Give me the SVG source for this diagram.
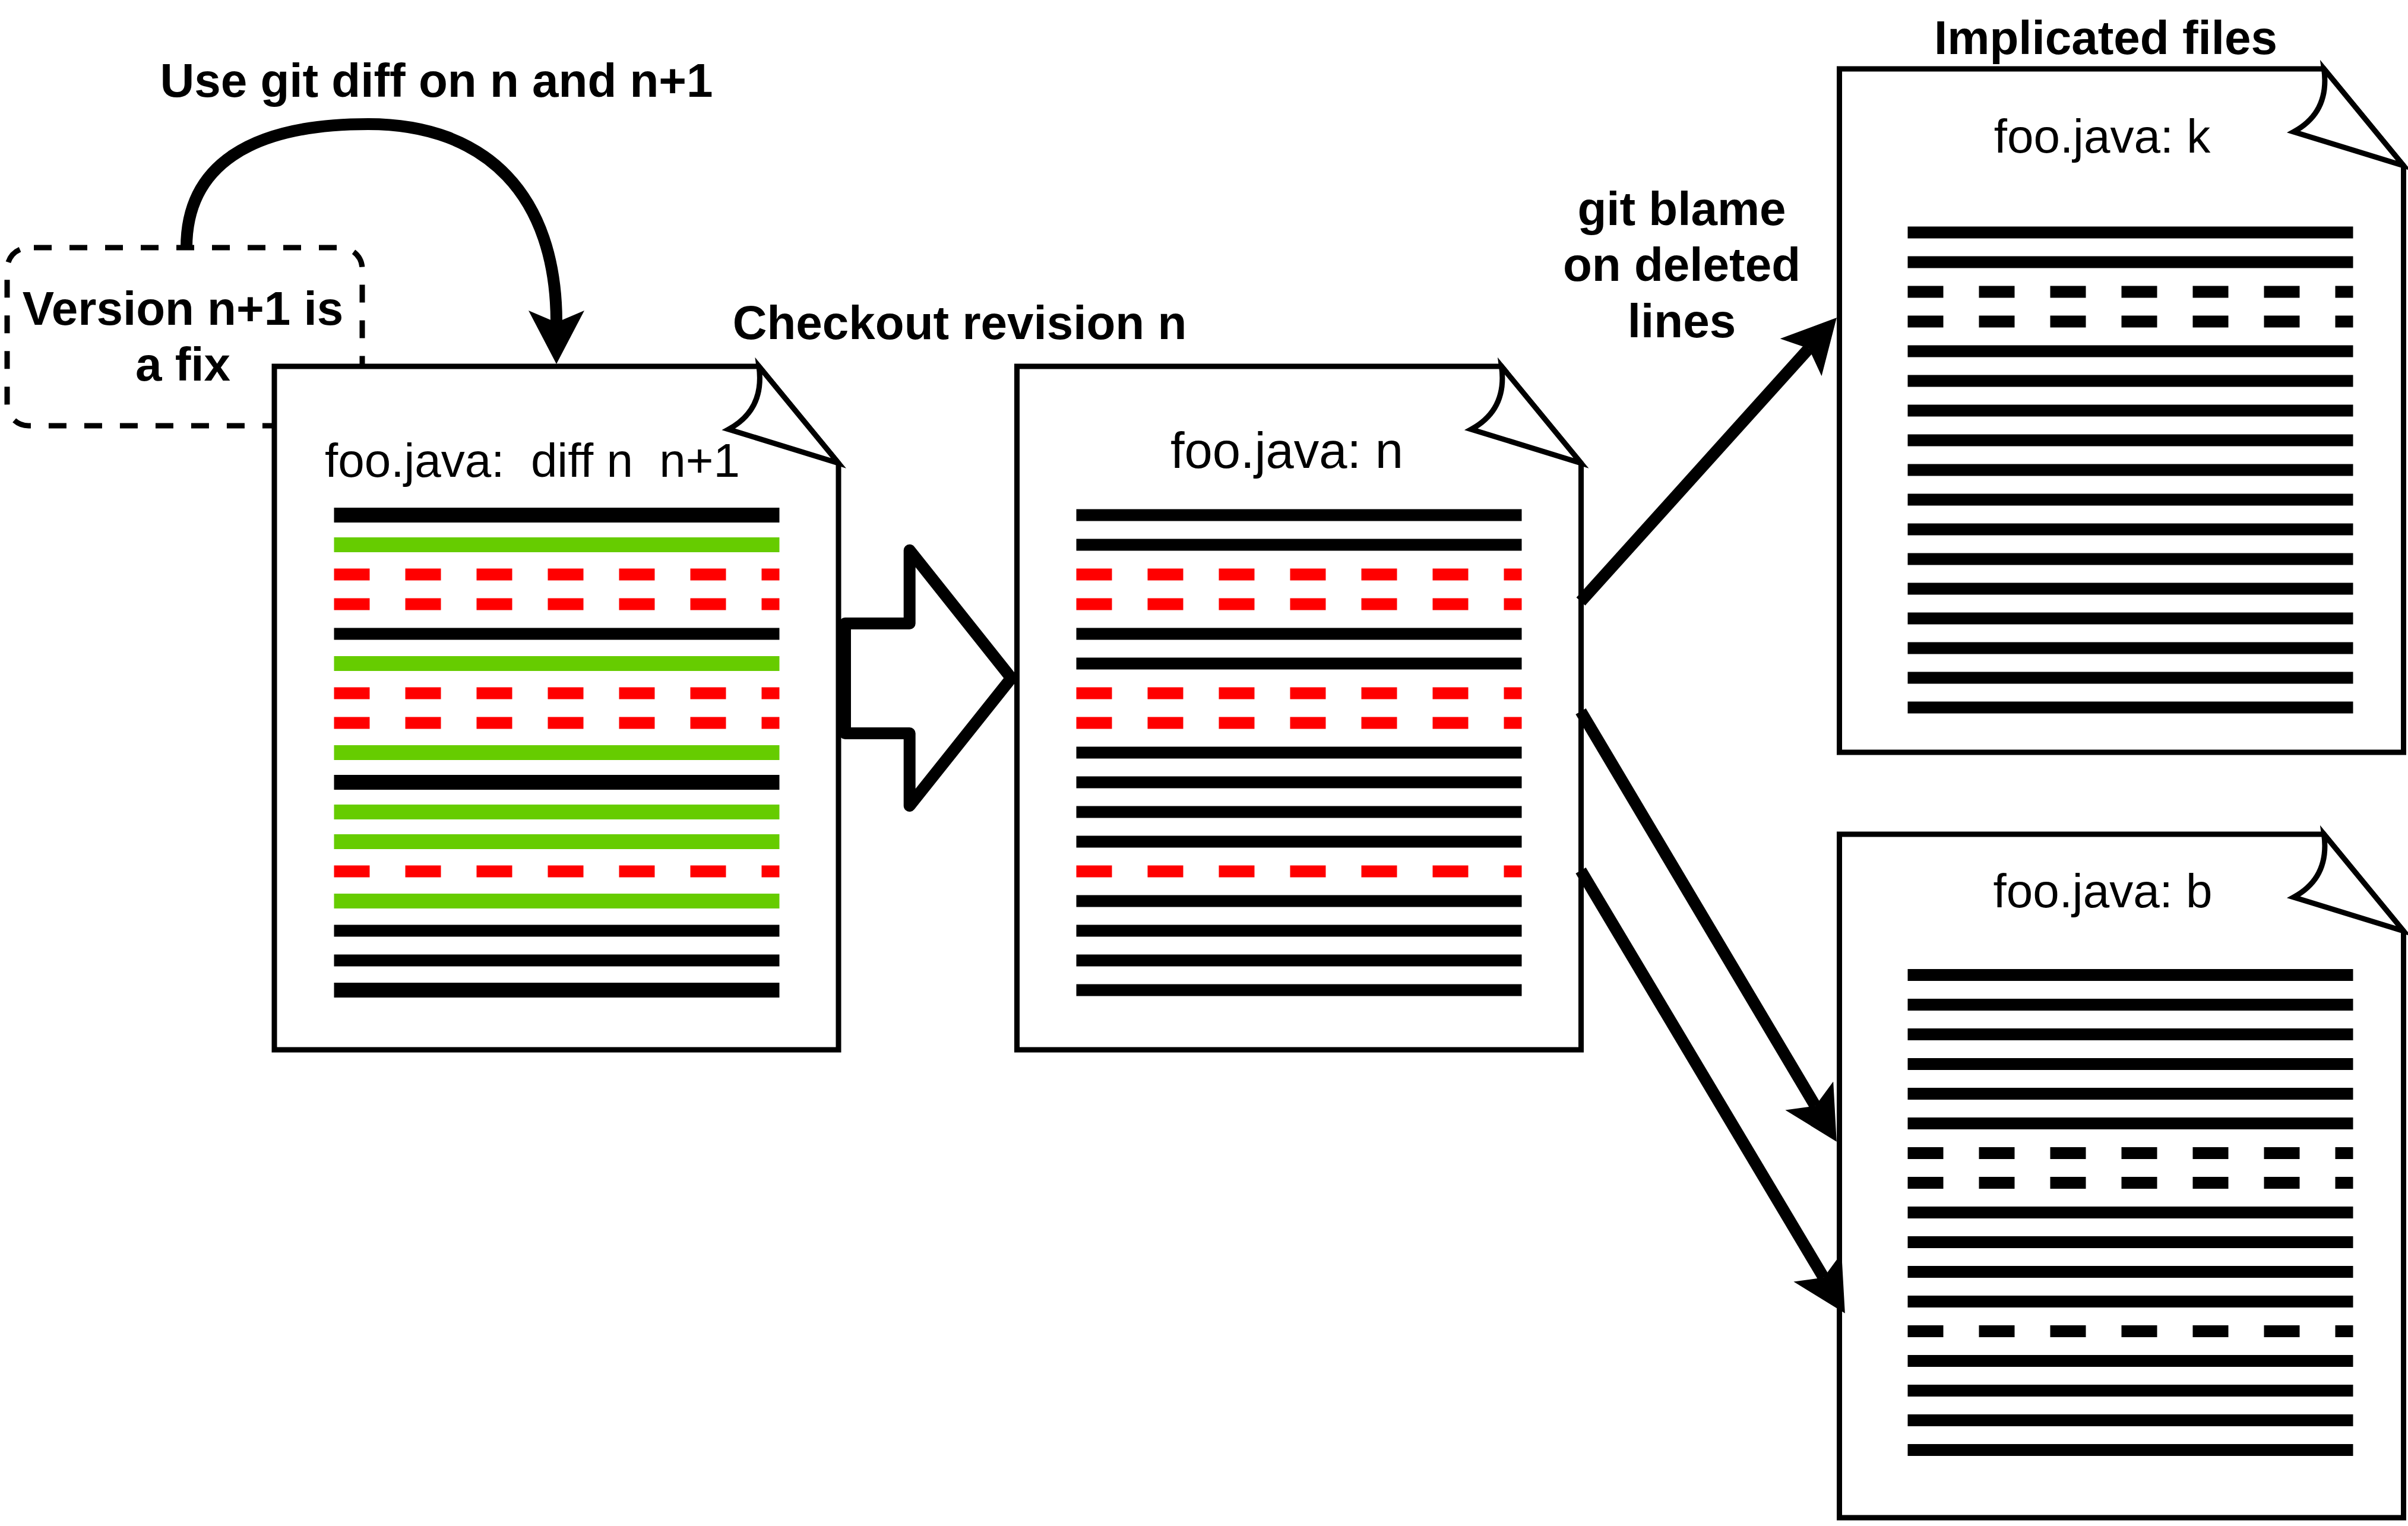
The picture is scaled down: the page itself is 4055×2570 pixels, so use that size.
<svg xmlns="http://www.w3.org/2000/svg" width="4055" height="2570" viewBox="0 0 4055 2570">
<defs>
<style>
.doc{fill:#fff;stroke:#000;stroke-width:9}
.ln{stroke-width:20;fill:none}
.k{stroke:#000}
.g{stroke:#66CC00}
.r{stroke:#FF0000}
.d{stroke-dasharray:60 60}
.w25{stroke-width:25}
.lbl{font-family:"Liberation Sans",Arial,Helvetica,sans-serif;font-size:80px;fill:#000}
.b{font-weight:bold}
.edge{fill:none;stroke:#000;stroke-width:20}
</style>
<marker id="ah" markerUnits="userSpaceOnUse" viewBox="0 0 90 94" markerWidth="90" markerHeight="94" refX="20" refY="47" orient="auto"><path d="M0,0 L90,47 L0,94 L20,47 Z" fill="#000"/></marker>
<path id="docshape" class="doc" d="M0,0 H816 L950,163 V1151 H0 Z"/>
<path id="curl" class="doc" d="M816,0 Q826,73 765,106 L950,163 Z"/>
</defs>

<g id="note-fix">
<rect x="12" y="417" width="598" height="300" rx="36" fill="#fff" stroke="#000" stroke-width="9" stroke-dasharray="30 30" stroke-dashoffset="51"/>
<text class="lbl b" x="308" y="547" text-anchor="middle">Version n+1 is</text>
<text class="lbl b" x="308" y="641" text-anchor="middle">a fix</text>
</g>

<g id="doc-diff" transform="translate(462,617)">
<use href="#docshape"/><use href="#curl"/>
<text class="lbl" x="85" y="186" xml:space="preserve" style="white-space:pre">foo.java:  diff n  n+1</text>
<line class="ln k w25" x1="100.5" x2="850.5" y1="250.5" y2="250.5"/>
<line class="ln g w25" x1="100.5" x2="850.5" y1="300.5" y2="300.5"/>
<line class="ln r d" x1="100.5" x2="850.5" y1="350.5" y2="350.5"/>
<line class="ln r d" x1="100.5" x2="850.5" y1="400.5" y2="400.5"/>
<line class="ln k" x1="100.5" x2="850.5" y1="450.5" y2="450.5"/>
<line class="ln g w25" x1="100.5" x2="850.5" y1="500.5" y2="500.5"/>
<line class="ln r d" x1="100.5" x2="850.5" y1="550.5" y2="550.5"/>
<line class="ln r d" x1="100.5" x2="850.5" y1="600.5" y2="600.5"/>
<line class="ln g w25" x1="100.5" x2="850.5" y1="650.5" y2="650.5"/>
<line class="ln k w25" x1="100.5" x2="850.5" y1="700.5" y2="700.5"/>
<line class="ln g w25" x1="100.5" x2="850.5" y1="750.5" y2="750.5"/>
<line class="ln g w25" x1="100.5" x2="850.5" y1="800.5" y2="800.5"/>
<line class="ln r d" x1="100.5" x2="850.5" y1="850.5" y2="850.5"/>
<line class="ln g w25" x1="100.5" x2="850.5" y1="900.5" y2="900.5"/>
<line class="ln k" x1="100.5" x2="850.5" y1="950.5" y2="950.5"/>
<line class="ln k" x1="100.5" x2="850.5" y1="1000.5" y2="1000.5"/>
<line class="ln k w25" x1="100.5" x2="850.5" y1="1050.5" y2="1050.5"/>
</g>

<g id="doc-n" transform="translate(1712.5,617)">
<use href="#docshape"/><use href="#curl"/>
<text class="lbl" x="454.5" y="171" text-anchor="middle" style="font-size:85px">foo.java: n</text>
<line class="ln k" x1="100" x2="850" y1="250.5" y2="250.5"/>
<line class="ln k" x1="100" x2="850" y1="300.5" y2="300.5"/>
<line class="ln r d" x1="100" x2="850" y1="350.5" y2="350.5"/>
<line class="ln r d" x1="100" x2="850" y1="400.5" y2="400.5"/>
<line class="ln k" x1="100" x2="850" y1="450.5" y2="450.5"/>
<line class="ln k" x1="100" x2="850" y1="500.5" y2="500.5"/>
<line class="ln r d" x1="100" x2="850" y1="550.5" y2="550.5"/>
<line class="ln r d" x1="100" x2="850" y1="600.5" y2="600.5"/>
<line class="ln k" x1="100" x2="850" y1="650.5" y2="650.5"/>
<line class="ln k" x1="100" x2="850" y1="700.5" y2="700.5"/>
<line class="ln k" x1="100" x2="850" y1="750.5" y2="750.5"/>
<line class="ln k" x1="100" x2="850" y1="800.5" y2="800.5"/>
<line class="ln r d" x1="100" x2="850" y1="850.5" y2="850.5"/>
<line class="ln k" x1="100" x2="850" y1="900.5" y2="900.5"/>
<line class="ln k" x1="100" x2="850" y1="950.5" y2="950.5"/>
<line class="ln k" x1="100" x2="850" y1="1000.5" y2="1000.5"/>
<line class="ln k" x1="100" x2="850" y1="1050.5" y2="1050.5"/>
</g>

<g id="doc-k" transform="translate(3097.5,116)">
<use href="#docshape"/><use href="#curl"/>
<text class="lbl" x="442.5" y="141" text-anchor="middle">foo.java: k</text>
<line class="ln k" x1="115" x2="865" y1="275.5" y2="275.5"/>
<line class="ln k" x1="115" x2="865" y1="325.5" y2="325.5"/>
<line class="ln k d" x1="115" x2="865" y1="375.5" y2="375.5"/>
<line class="ln k d" x1="115" x2="865" y1="425.5" y2="425.5"/>
<line class="ln k" x1="115" x2="865" y1="475.5" y2="475.5"/>
<line class="ln k" x1="115" x2="865" y1="525.5" y2="525.5"/>
<line class="ln k" x1="115" x2="865" y1="575.5" y2="575.5"/>
<line class="ln k" x1="115" x2="865" y1="625.5" y2="625.5"/>
<line class="ln k" x1="115" x2="865" y1="675.5" y2="675.5"/>
<line class="ln k" x1="115" x2="865" y1="725.5" y2="725.5"/>
<line class="ln k" x1="115" x2="865" y1="775.5" y2="775.5"/>
<line class="ln k" x1="115" x2="865" y1="825.5" y2="825.5"/>
<line class="ln k" x1="115" x2="865" y1="875.5" y2="875.5"/>
<line class="ln k" x1="115" x2="865" y1="925.5" y2="925.5"/>
<line class="ln k" x1="115" x2="865" y1="975.5" y2="975.5"/>
<line class="ln k" x1="115" x2="865" y1="1025.5" y2="1025.5"/>
<line class="ln k" x1="115" x2="865" y1="1075.5" y2="1075.5"/>
</g>

<g id="doc-b" transform="translate(3097.5,1405)">
<use href="#docshape"/><use href="#curl"/>
<text class="lbl" x="443.5" y="123" text-anchor="middle">foo.java: b</text>
<line class="ln k" x1="115" x2="865" y1="237" y2="237"/>
<line class="ln k" x1="115" x2="865" y1="287" y2="287"/>
<line class="ln k" x1="115" x2="865" y1="337" y2="337"/>
<line class="ln k" x1="115" x2="865" y1="387" y2="387"/>
<line class="ln k" x1="115" x2="865" y1="437" y2="437"/>
<line class="ln k" x1="115" x2="865" y1="487" y2="487"/>
<line class="ln k d" x1="115" x2="865" y1="537" y2="537"/>
<line class="ln k d" x1="115" x2="865" y1="587" y2="587"/>
<line class="ln k" x1="115" x2="865" y1="637" y2="637"/>
<line class="ln k" x1="115" x2="865" y1="687" y2="687"/>
<line class="ln k" x1="115" x2="865" y1="737" y2="737"/>
<line class="ln k" x1="115" x2="865" y1="787" y2="787"/>
<line class="ln k d" x1="115" x2="865" y1="837" y2="837"/>
<line class="ln k" x1="115" x2="865" y1="887" y2="887"/>
<line class="ln k" x1="115" x2="865" y1="937" y2="937"/>
<line class="ln k" x1="115" x2="865" y1="987" y2="987"/>
<line class="ln k" x1="115" x2="865" y1="1037" y2="1037"/>
</g>

<g id="connectors">
<path class="edge" d="M314,417 C314,280 420,209 620,209 C820,209 937,330 937,543" marker-end="url(#ah)"/>
<polygon points="1423,1050 1531.7,1050 1531.7,926.7 1703,1142 1531.7,1357 1531.7,1235 1423,1235" fill="#fff" stroke="#000" stroke-width="20" stroke-linejoin="round"/>
<line class="edge" x1="2662" y1="1013" x2="3046" y2="587" marker-end="url(#ah)"/>
<line class="edge" x1="2662" y1="1198" x2="3057" y2="1862.6" marker-end="url(#ah)"/>
<line class="edge" x1="2662" y1="1466" x2="3071" y2="2151.6" marker-end="url(#ah)"/>
</g>

<g id="labels">
<text class="lbl b" x="735" y="163" text-anchor="middle">Use git diff on n and n+1</text>
<text class="lbl b" x="1616" y="571" text-anchor="middle">Checkout revision n</text>
<text class="lbl b" x="2832" y="379" text-anchor="middle">git blame</text>
<text class="lbl b" x="2832" y="473" text-anchor="middle">on deleted</text>
<text class="lbl b" x="2832" y="568" text-anchor="middle">lines</text>
<text class="lbl b" x="3546" y="91" text-anchor="middle">Implicated files</text>
</g>
</svg>
